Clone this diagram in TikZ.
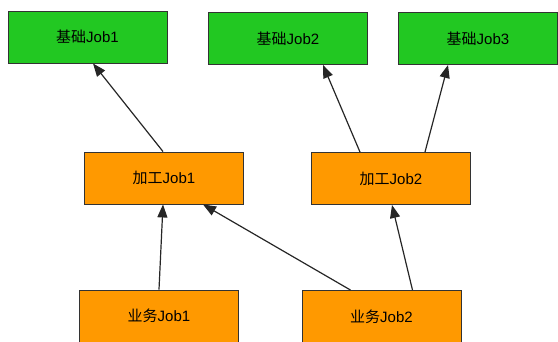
\documentclass[tikz,border=0pt]{standalone}
\usepackage{fontspec}
\setmainfont{Liberation Sans}
\newfontfamily\cjk{Noto Sans CJK SC}
\usetikzlibrary{positioning,arrows.meta}

\definecolor{basegreen}{RGB}{34,200,34}
\definecolor{joborange}{RGB}{255,153,0}

\begin{document}
\begin{tikzpicture}[x=1pt, y=-1pt]
    % Define styles
    \tikzset{basejob/.style={draw=black!80, line width=0.9pt, fill=basegreen, minimum width=159pt, minimum height=52pt, inner sep=0pt, font=\fontsize{15}{17}\selectfont}}
    \tikzset{procjob/.style={basejob, fill=joborange}}
    \tikzset{dep/.style={draw=black!85, line width=1.2pt, -{Triangle[length=13pt, width=10pt]}}}

    \useasboundingbox (0,0) rectangle (558,341);

    % Draw base jobs
    \node[basejob] (base1) at (87.5,37) {{\cjk 基础}Job1};
    \node[basejob] (base2) at (288,38.5) {{\cjk 基础}Job2};
    \node[basejob] (base3) at (478,38.5) {{\cjk 基础}Job3};

    % Draw processing jobs
    \node[procjob] (proc1) at (164,178) {{\cjk 加工}Job1};
    \node[procjob] (proc2) at (391,178.5) {{\cjk 加工}Job2};

    % Draw business jobs
    \node[procjob] (biz1) at (159,316) {{\cjk 业务}Job1};
    \node[procjob] (biz2) at (381.5,316.5) {{\cjk 业务}Job2};

    % Connect jobs to what they depend on
    \draw[dep] ([xshift=-1pt]proc1.north) -- ([xshift=5.5pt]base1.south);
    \draw[dep] ([xshift=-31pt]proc2.north) -- ([xshift=35pt]base2.south);
    \draw[dep] ([xshift=34pt]proc2.north) -- ([xshift=-30pt]base3.south);

    \draw[dep] (biz1.north) -- ([xshift=-1pt]proc1.south);
    \draw[dep] ([xshift=-31pt]biz2.north) -- ([xshift=39pt]proc1.south);
    \draw[dep] ([xshift=31pt]biz2.north) -- ([xshift=1pt]proc2.south);

\end{tikzpicture}
\end{document}
